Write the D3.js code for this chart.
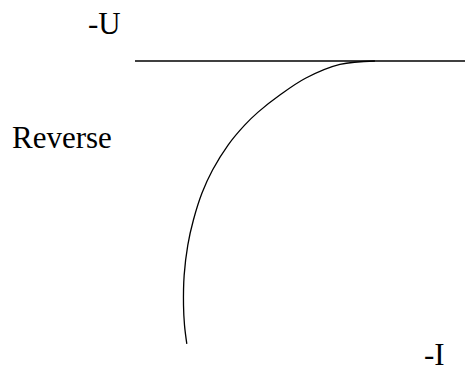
<!DOCTYPE html>
<html><head><meta charset="utf-8">
<script src="https://cdn.jsdelivr.net/npm/d3@7"></script>
<style>html,body{margin:0;padding:0;background:#fff;}</style>
</head><body>
<script>
// Reverse characteristic: -U (horizontal axis) vs -I (vertical, downward)
const curveU = [72.7, 62.1, 51.8, 43.9, 37.3, 33.3, 28.2, 23.5, 20.3, 17.7, 16.0, 14.9, 14.7, 15.0, 15.7];
const curveI = [0, 1.2, 6.0, 12.0, 18.0, 22.5, 29.6, 38.4, 46.5, 56.0, 64.8, 75.4, 86.0, 93.0, 99.6];
const axisU = [0, 100];
const labels = ["-U", "Reverse", "-I"];

const W = 465, H = 392;
const svg = d3.select("body").append("svg").attr("width", W).attr("height", H);
const x = d3.scaleLinear().domain([0, 100]).range([135, 465]);
const y = d3.scaleLinear().domain([0, 100]).range([61, 345]);

svg.append("line")
  .attr("x1", x(axisU[0])).attr("x2", x(axisU[1]))
  .attr("y1", y(0)).attr("y2", y(0))
  .attr("stroke", "#000").attr("stroke-width", 1.4);

const pts = curveU.map((u, i) => [u, curveI[i]]);
svg.append("path")
  .attr("d", d3.line().x(d => x(d[0])).y(d => y(d[1])).curve(d3.curveCatmullRom.alpha(0.5))(pts))
  .attr("fill", "none").attr("stroke", "#000").attr("stroke-width", 1.3);

const font = "'Liberation Serif','Times New Roman',serif";
const pos = [[88, 34], [12, 148], [424, 365]];
labels.forEach((t, i) => {
  svg.append("text").attr("x", pos[i][0]).attr("y", pos[i][1])
    .attr("font-family", font).attr("font-size", 31).attr("fill", "#000").text(t);
});
</script>
</body></html>
